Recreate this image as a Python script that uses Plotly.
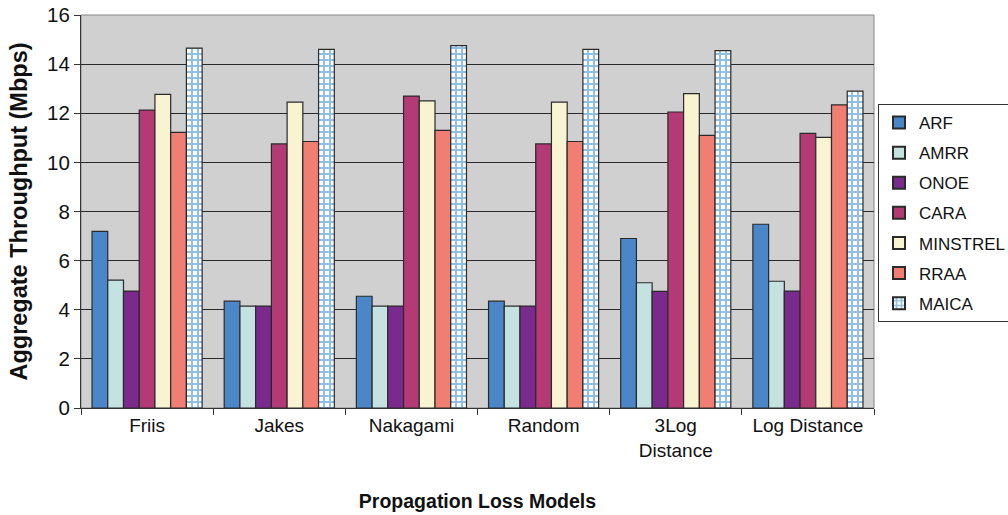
import plotly.graph_objects as go

categories = ["Friis", "Jakes", "Nakagami", "Random", "3Log<br>Distance", "Log Distance"]
series_names = ["ARF", "AMRR", "ONOE", "CARA", "MINSTREL", "RRAA", "MAICA"]
ARF = [7.19, 4.35, 4.55, 4.35, 6.9, 7.48]
AMRR = [5.21, 4.15, 4.15, 4.15, 5.1, 5.16]
ONOE = [4.76, 4.15, 4.15, 4.15, 4.75, 4.76]
CARA = [12.13, 10.75, 12.7, 10.75, 12.05, 11.18]
MINSTREL = [12.77, 12.45, 12.5, 12.45, 12.8, 11.02]
RRAA = [11.22, 10.85, 11.3, 10.85, 11.1, 12.34]
MAICA = [14.65, 14.6, 14.75, 14.6, 14.55, 12.9]
y_ticks = [0, 2, 4, 6, 8, 10, 12, 14, 16]

values = [ARF, AMRR, ONOE, CARA, MINSTREL, RRAA, MAICA]
colors = ["#4a86c8", "#c4e2df", "#7a2a8c", "#b33a74", "#f8f3d0", "#f07e72", "#ffffff"]

FONT = "Liberation Sans, Arial, sans-serif"
W, H = 1008, 515
fig = go.Figure()
for name, vals, col in zip(series_names, values, colors):
    kw = {}
    if name == "MAICA":
        kw = dict(pattern=dict(shape="+", fgcolor="#1f80c8", bgcolor="#ffffff",
                               size=6, solidity=0.55, fillmode="overlay"))
    fig.add_trace(go.Bar(
        x=categories, y=vals, name=name, legendgroup=name,
        marker=dict(color=col, line=dict(color="#2a2a2a", width=1.2), **kw),
    ))

fig.update_layout(
    width=W, height=H,
    margin=dict(l=81, r=134, t=15, b=107),
    paper_bgcolor="white", plot_bgcolor="#d0d0d0",
    barmode="group", bargap=0.167, bargroupgap=0,
    font=dict(family=FONT, size=18, color="#111"),
    legend=dict(xref="container", yref="container", x=878 / W, y=1 - 104 / H,
                xanchor="left", yanchor="top",
                bordercolor="#333", borderwidth=1, bgcolor="white",
                font=dict(size=17), itemsizing="constant", tracegroupgap=5,
                itemwidth=30),
    showlegend=True,
)
fig.update_xaxes(
    automargin=False,
    ticks="outside", tickson="boundaries", ticklen=6, tickcolor="#333",
    showline=True, linecolor="#333", linewidth=1,
    title=dict(text="<b>Propagation Loss Models</b>", standoff=34, font=dict(size=19.5)),
    tickfont=dict(size=19),
)
fig.update_yaxes(
    automargin=False,
    range=[0, 16], tickvals=y_ticks, ticks="outside", ticklen=6, tickcolor="#333",
    showline=True, linecolor="#333", linewidth=1,
    showgrid=True, gridcolor="#2a2a2a", gridwidth=1.2,
    title=dict(text="<b>Aggregate Throughput (Mbps)</b>", standoff=12, font=dict(size=23.5)),
    tickfont=dict(size=20.5), zeroline=False, ticklabeloverflow="allow",
)
fig.add_shape(type="rect", xref="paper", yref="paper", x0=0, x1=1, y0=0, y1=1,
              line=dict(color="#888", width=1), layer="below")
fig.write_html("out.html", config={"displayModeBar": False},
               post_script="document.body.style.margin='0';")
